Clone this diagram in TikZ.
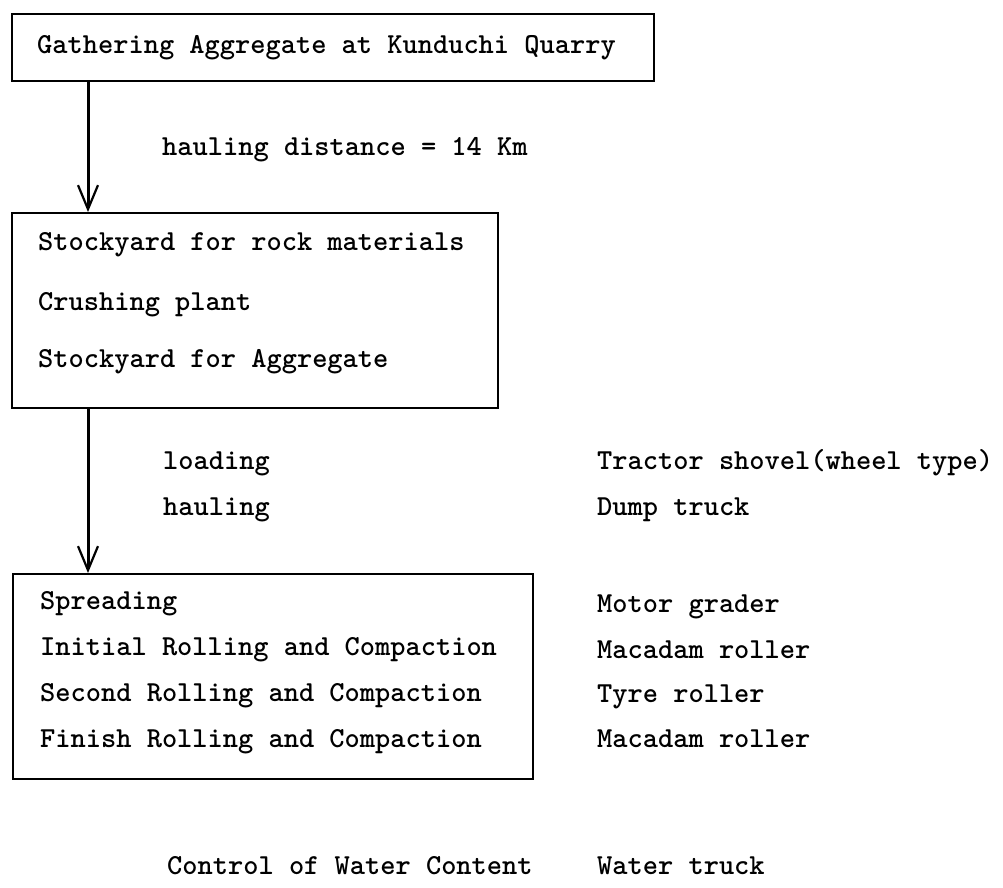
\documentclass[tikz,border=0pt]{standalone}
\usetikzlibrary{arrows.meta}
\begin{document}
\begin{tikzpicture}[x=1pt,y=-1pt,
  box/.style={draw, line width=2.2pt, inner sep=0pt, anchor=north west},
  txt/.style={anchor=west, inner sep=0pt, font=\fontsize{29}{34}\selectfont\ttfamily\bfseries, text height=20pt, text depth=6pt},
  arr/.style={line width=3pt, -{Straight Barb[length=24pt,width=20pt,line width=2.2pt]}}]
\useasboundingbox (0,0) rectangle (1003,887);
\fill[white] (0,0) rectangle (1003,887);
% boxes
\node[box, minimum width=642pt, minimum height=67pt] (b1) at (11,13) {};
\node[box, minimum width=486pt, minimum height=195pt] (b2) at (11,212) {};
\node[box, minimum width=520pt, minimum height=205pt] (b3) at (12,573) {};
% texts
\node[txt] (t1) at (37,46) {Gathering Aggregate at Kunduchi Quarry};
\node[txt] (d1) at (162,148) {hauling distance = 14 Km};
\node[txt] (s1) at (38,243) {Stockyard for rock materials};
\node[txt] (s2) at (38,303) {Crushing plant};
\node[txt] (s3) at (38,360) {Stockyard for Aggregate};
\node[txt] (l1) at (163,462) {loading};
\node[txt] (l2) at (163,508) {hauling};
\node[txt] (e1) at (597,462) {Tractor shovel(wheel type)};
\node[txt] (e2) at (597,508) {Dump truck};
\node[txt] (p1) at (40,602) {Spreading};
\node[txt] (p2) at (40,648) {Initial Rolling and Compaction};
\node[txt] (p3) at (40,694) {Second Rolling and Compaction};
\node[txt] (p4) at (40,740) {Finish Rolling and Compaction};
\node[txt] (m1) at (597,605) {Motor grader};
\node[txt] (m2) at (597,651) {Macadam roller};
\node[txt] (m3) at (597,695) {Tyre roller};
\node[txt] (m4) at (597,740) {Macadam roller};
\node[txt] (c1) at (167,867) {Control of Water Content};
\node[txt] (c2) at (597,867) {Water truck};
% arrows
\draw[arr] ([xshift=77pt]b1.south west) -- ([xshift=77pt]b2.north west);
\draw[arr] ([xshift=77pt]b2.south west) -- ([xshift=76pt]b3.north west);
\end{tikzpicture}
\end{document}
